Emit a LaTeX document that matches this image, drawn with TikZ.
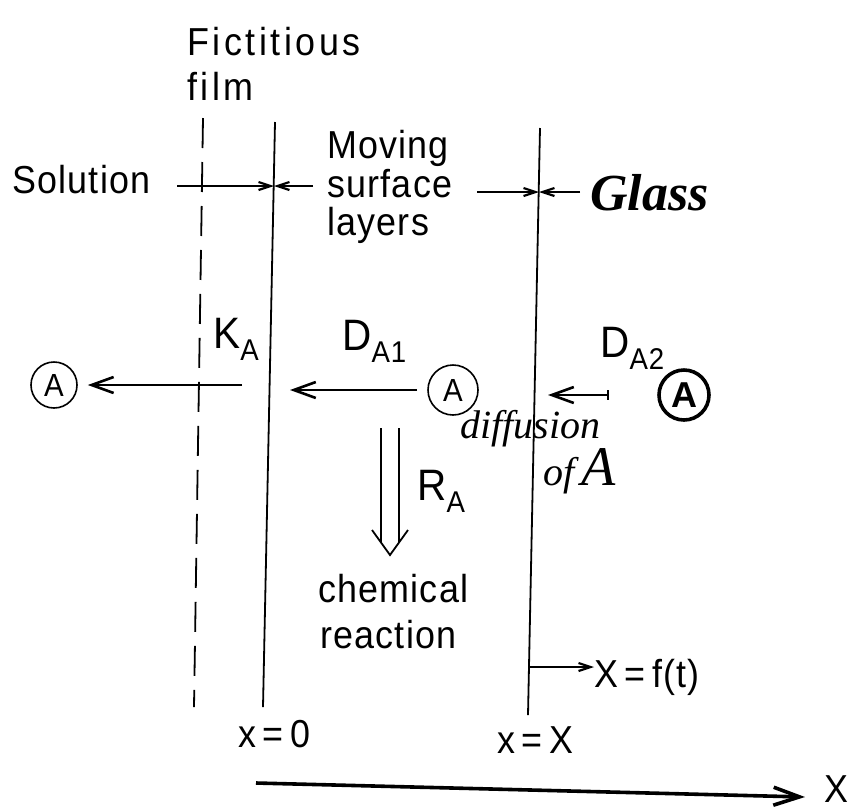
\documentclass[tikz,border=0pt]{standalone}
\usepackage{fontspec}
\setmainfont{Liberation Sans}
\newfontfamily\figfont{Liberation Sans}[FakeStretch=0.92, LetterSpace=3]
\newfontfamily\spacedfont{Liberation Sans}[FakeStretch=0.92, LetterSpace=9]
\newfontfamily\handfont{Liberation Serif}
\usetikzlibrary{arrows.meta, positioning}

\newcommand{\lsub}[1]{\raisebox{-6pt}{\fontsize{15}{15}\selectfont #1}}

\begin{document}
\begin{tikzpicture}[
  x=0.5pt, y=-0.5pt,
  lbl/.style={font=\figfont\fontsize{19.5}{20}\selectfont, inner sep=0pt, anchor=base west},
  sym/.style={lbl, font=\figfont\fontsize{22}{22}\selectfont},
  hand/.style={font=\handfont\itshape\fontsize{20}{20}\selectfont, inner sep=0pt, anchor=base west},
  wall/.style={line width=0.9pt},
  arr/.style={line width=1.3pt, -{Straight Barb[length=11pt,width=8pt]}},
  tick/.style={line width=1.1pt, -{Straight Barb[length=6pt,width=4pt]}},
  spec/.style={circle, draw, line width=0.8pt, minimum size=23pt, inner sep=0pt,
    font=\figfont\fontsize{16}{16}\selectfont}
]
\useasboundingbox (0,0) rectangle (856,810);

%% ===== walls =====
\coordinate (film top) at (203,118);
\coordinate (film bot) at (194,707);
\coordinate (x0 top) at (275,122);
\coordinate (x0 bot) at (263,707);
\coordinate (xX top) at (540,128);
\coordinate (xX bot) at (528,715);
\draw[wall, dash pattern=on 15pt off 7pt] (film top) -- (film bot);
\draw[wall] (x0 top) -- (x0 bot);
\draw[wall] (xX top) -- (xX bot);

%% ===== top labels =====
\node[lbl, font=\spacedfont\fontsize{19.5}{20}\selectfont] (fict) at (187,55) {Fictitious};
\node[lbl, font=\spacedfont\fontsize{19.5}{20}\selectfont] (film) at (187,100) {film};
\node[lbl] (sol) at (12,193) {Solution};
\node[lbl] (mov1) at (327,158) {Moving};
\node[lbl] (mov2) at (327,197) {surface};
\node[lbl] (mov3) at (327,235) {layers};
\node[hand, font=\handfont\bfseries\itshape\fontsize{26}{26}\selectfont] (glass) at (590,210) {Glass};

%% region arrows
\coordinate (sol tail) at (177,186);
\coordinate (x0 hit) at (274,186);
\coordinate (mov tail) at (313,186);
\coordinate (mov2 tail) at (477,192);
\coordinate (xX hit) at (539,192);
\coordinate (glass tail) at (580,192);
\draw[tick] (sol tail) -- (x0 hit);
\draw[tick] (mov tail) -- (x0 hit);
\draw[tick] (mov2 tail) -- (xX hit);
\draw[tick] (glass tail) -- (xX hit);

%% ===== species A and fluxes =====
\node[spec] (A out) at (54,385) {A};
\node[spec, minimum size=25pt] (A mid) at (453,390) {A};
\node[spec, line width=1.8pt, minimum size=25pt, font=\bfseries\fontsize{18}{18}\selectfont] (A in) at (684,395) {A};

\coordinate (ka tail) at (242,385);
\coordinate (da1 tip) at (290,390);
\draw[arr, shorten >=5pt] (ka tail) -- (A out);
\draw[arr, shorten <=5pt] (A mid) -- (da1 tip);
\draw[arr, {Bar[width=5pt]}-{Straight Barb[length=11pt,width=8pt]}, shorten <=24pt, shorten >=4pt]
  (A in) -- (xX top |- A in);

\node[sym] (ka) at (213,348) {K\lsub{A}};
\node[sym] (da1) at (342,350) {D\lsub{A1}};
\node[sym] (da2) at (600,357) {D\lsub{A2}};
\node[hand] (diff) at (460,438) {diffusion};
\node[hand] (ofA) at (543,485) {of\,\fontsize{28}{28}\selectfont A};

%% ===== reaction =====
\draw[wall] (381,428) -- (381,543);
\draw[wall] (399,428) -- (399,543);
\draw[wall] (372,530) -- (390,555) -- (408,530);
\node[sym] (ra) at (417,500) {R\lsub{A}};
\node[lbl] (chem) at (318,602) {chemical};
\node[lbl] (reac) at (320,648) {reaction};

%% ===== moving boundary and axis =====
\coordinate (xX low) at (529,667);
\node[lbl] (fx) at (594,687) {X\thinspace=\thinspace f(t)};
\draw[tick] (xX low) -- (fx.west |- xX low);
\node[lbl] (lx0) at (238,747) {x\thinspace=\thinspace0};
\node[lbl] (lxX) at (497,753) {x\thinspace=\thinspace X};

\coordinate (axis tail) at (256,783);
\node[lbl] (axX) at (824,802) {X};
\draw[arr, line width=1.8pt, -{Straight Barb[length=13pt,width=9pt]}] (axis tail) -- (805,797);

\end{tikzpicture}
\end{document}
